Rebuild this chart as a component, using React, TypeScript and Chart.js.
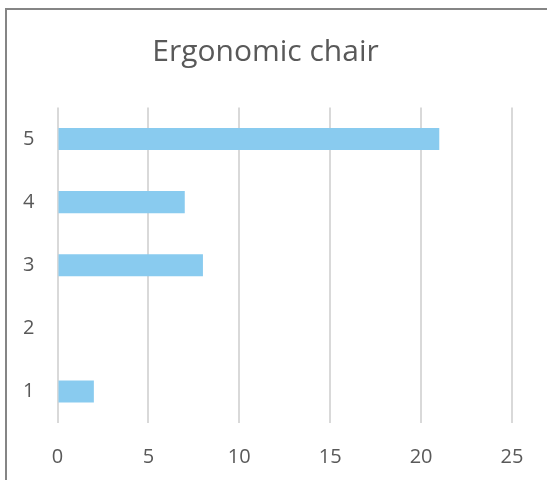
import React, { useEffect, useRef } from "react";
import { Chart, registerables } from "chart.js";

Chart.register(...registerables);

// Survey scores (1-5) and how many responses each received
const scores = ["1", "2", "3", "4", "5"];
const counts = [2, 0, 8, 7, 21];
const xTicks = [0, 5, 10, 15, 20, 25];

const TITLE = "Ergonomic chair";
const FONT = '"Open Sans", "DejaVu Sans", sans-serif';
const TEXT = "#595959";
const BAR = "#89CBEF";
const GRID = "#D9D9D9";

export default function App() {
  const canvasRef = useRef<HTMLCanvasElement | null>(null);

  useEffect(() => {
    const canvas = canvasRef.current;
    if (!canvas) return;
    const chart = new Chart(canvas, {
      type: "bar",
      data: {
        labels: scores,
        datasets: [
          {
            data: counts,
            backgroundColor: BAR,
            borderWidth: 0,
            categoryPercentage: 1,
            barPercentage: 0.35,
          },
        ],
      },
      options: {
        indexAxis: "y",
        responsive: false,
        animation: false,
        devicePixelRatio: 1,
        layout: { padding: { left: 19, right: 35, top: 0, bottom: 0 } },
        plugins: {
          legend: { display: false },
          tooltip: { enabled: false },
          title: {
            display: true,
            text: TITLE,
            color: TEXT,
            font: { family: FONT, size: 30, weight: "normal" },
            padding: { top: 34.5, bottom: 37 },
          },
        },
        scales: {
          y: {
            type: "category",
            reverse: true,
            grid: { display: false, drawTicks: false },
            border: { display: false },
            ticks: {
              color: TEXT,
              font: { family: FONT, size: 20 },
              padding: 23,
            },
            afterFit: (scale: any) => {
              scale.width = 38.5;
            },
          },
          x: {
            type: "linear",
            min: xTicks[0],
            max: xTicks[xTicks.length - 1],
            afterBuildTicks: (scale: any) => {
              scale.ticks = xTicks.map((v) => ({ value: v }));
            },
            grid: { color: GRID, lineWidth: 2, drawTicks: false },
            border: { display: false },
            ticks: {
              color: TEXT,
              font: { family: FONT, size: 20 },
              padding: 22,
            },
            afterFit: (scale: any) => {
              scale.height = 57;
            },
          },
        },
      },
    });
    return () => chart.destroy();
  }, []);

  return (
    <div
      style={{
        position: "fixed",
        left: 0,
        top: 0,
        width: 547,
        height: 480,
        background: "#fff",
        overflow: "hidden",
      }}
    >
      <div
        style={{
          position: "absolute",
          left: 5,
          top: 8,
          width: 600,
          height: 520,
          borderLeft: "2px solid #858585",
          borderTop: "2px solid #858585",
        }}
      />
      <canvas
        ref={canvasRef}
        width={547}
        height={480}
        style={{ position: "absolute", left: 0, top: 0, width: 547, height: 480 }}
      />
    </div>
  );
}
